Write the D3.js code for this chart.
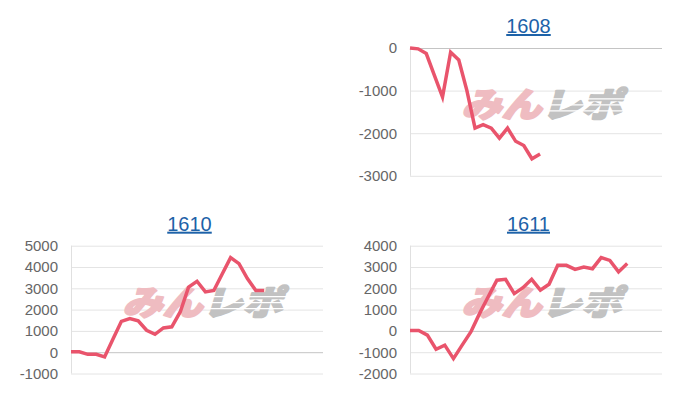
<!DOCTYPE html>
<html>
<head>
<meta charset="utf-8">
<script src="https://cdn.jsdelivr.net/npm/d3@7"></script>
<style>
  body{ margin:0; background:#fff; }
  text{ font-family:"Liberation Sans", Arial, sans-serif; }
</style>
</head>
<body>
<svg id="chart" width="700" height="400"></svg>
<script>
// chart data
var titles = ["1608", "1610", "1611"];
var slots = [32, 31, 30];   // number of x categories on each chart

var ticks1608 = [0, -1000, -2000, -3000];
var ticks1610 = [5000, 4000, 3000, 2000, 1000, 0, -1000];
var ticks1611 = [4000, 3000, 2000, 1000, 0, -1000, -2000];

var values1608 = [0, -20, -130, -640, -1150, -100, -280, -1000, -1880, -1800,
                  -1880, -2115, -1880, -2190, -2290, -2600, -2490];
var values1610 = [20, 20, -100, -100, -220, 615, 1450, 1580, 1470, 1030,
                  840, 1140, 1190, 1890, 3060, 3330, 2830, 2900, 3670, 4440,
                  4160, 3460, 2900, 2900];
var values1611 = [20, 20, -200, -860, -670, -1300, -670, -50, 810, 1600,
                  2380, 2420, 1750, 2030, 2420, 1910, 2190, 3080, 3080, 2890,
                  3000, 2920, 3440, 3310, 2770, 3160];

var svg = d3.select("#chart");

// box position + plot area for each panel
var panels = [
  {title: titles[0], slots: slots[0], ticks: ticks1608, values: values1608, ox: 350, oy: 0,   left: 60, top: 48},
  {title: titles[1], slots: slots[1], ticks: ticks1610, values: values1610, ox: 0,   oy: 200, left: 71, top: 45.7},
  {title: titles[2], slots: slots[2], ticks: ticks1611, values: values1611, ox: 350, oy: 200, left: 60, top: 45.7}
];

var plotW = 252, plotH = 127.8;

panels.forEach(function(p) {
  var g = svg.append("g").attr("transform", "translate(" + p.ox + "," + p.oy + ")");

  var x = d3.scaleLinear().domain([0, p.slots - 1]).range([p.left, p.left + plotW]);
  var y = d3.scaleLinear().domain(d3.extent(p.ticks)).range([p.top + plotH, p.top]);

  // title
  g.append("text")
    .attr("x", p.left + plotW / 2 - 7.5)
    .attr("y", p.top - 15)
    .attr("text-anchor", "middle")
    .style("font-size", "20px")
    .style("fill", "#1d62a8")
    .style("text-decoration", "underline")
    .text(p.title);

  // grid
  g.selectAll(".grid")
    .data(p.ticks)
    .enter().append("line")
      .attr("x1", p.left).attr("x2", p.left + plotW)
      .attr("y1", function(d) { return y(d) + 0.5; })
      .attr("y2", function(d) { return y(d) + 0.5; })
      .attr("stroke", function(d) { return d === 0 ? "#c4c4c4" : "#e4e4e4"; })
      .attr("stroke-width", 1);

  g.append("line")
    .attr("x1", p.left + 0.5).attr("x2", p.left + 0.5)
    .attr("y1", p.top).attr("y2", p.top + plotH)
    .attr("stroke", "#e0e0e0");

  // tick labels
  g.selectAll(".tick")
    .data(p.ticks)
    .enter().append("text")
      .attr("x", p.left - 13)
      .attr("y", function(d) { return y(d); })
      .attr("dy", "0.36em")
      .attr("text-anchor", "end")
      .style("font-size", "15px")
      .style("fill", "#666")
      .text(function(d) { return d; });

  // watermark logo
  var cx = p.left + plotW / 2 + 9, cy = p.top + plotH / 2 - 7;
  var wg = g.append("g")
    .attr("transform", "translate(" + cx + "," + cy + ") skewX(-16)");
  var wm = wg.append("text")
    .attr("text-anchor", "middle")
    .attr("dy", "0.36em")
    .attr("textLength", 160)
    .attr("lengthAdjust", "spacingAndGlyphs")
    .style("font-family", "'Noto Sans CJK JP'")
    .style("font-weight", 900)
    .style("font-size", "34px")
    .style("stroke-width", 2)
    .style("stroke-linejoin", "round");
  wm.append("tspan").attr("fill", "#efbcc1").attr("stroke", "#efbcc1").text("みん");
  wm.append("tspan").attr("fill", "#c2c2c2").attr("stroke", "#c2c2c2").text("レポ");
  // speed lines through the grey half
  wg.selectAll(".stripe")
    .data([-6, 0, 6])
    .enter().append("line")
      .attr("x1", 2).attr("x2", 84)
      .attr("y1", function(d) { return d; })
      .attr("y2", function(d) { return d; })
      .attr("stroke", "#fff")
      .attr("stroke-width", 1.3);

  // line
  var line = d3.line()
    .x(function(d, i) { return x(i); })
    .y(function(d) { return y(d); });

  g.append("path")
    .datum(p.values)
    .attr("d", line)
    .attr("fill", "none")
    .attr("stroke", "#e9546c")
    .attr("stroke-width", 3.5)
    .attr("stroke-linejoin", "miter");
});
</script>
</body>
</html>
